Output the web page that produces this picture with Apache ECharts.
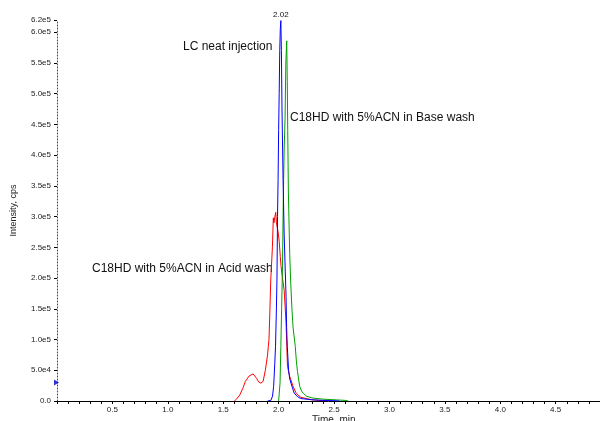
<!DOCTYPE html>
<html>
<head>
<meta charset="utf-8">
<script src="https://cdn.jsdelivr.net/npm/echarts@6/dist/echarts.min.js"></script>
<style>
html,body{margin:0;padding:0;background:#fff;}
#c{width:600px;height:421px;}
</style>
</head>
<body>
<div id="c"></div>
<script>
// Time (min), intensity (cps)
const lcNeatInjection = [
  [1.90,0],[1.93,1000],[1.945,8000],[1.955,24000],[1.965,60000],[1.972,89000],[1.98,150000],
  [1.985,200000],[1.99,300000],[1.995,360000],[2.0,440000],[2.005,500000],[2.01,570000],
  [2.015,605000],[2.02,619000],[2.025,570000],[2.03,480000],[2.04,360000],[2.05,270000],
  [2.06,210000],[2.067,170000],[2.072,120000],[2.078,89000],[2.09,50000],[2.10,36000],
  [2.12,24000],[2.14,13000],[2.17,7000],[2.2,4000],[2.3,2000],[2.4,1000],[2.5,500],[2.55,0]
];
const baseWash = [
  [2.0,0],[2.006,2000],[2.013,30000],[2.02,89000],[2.027,150000],[2.035,220000],[2.04,300000],
  [2.045,360000],[2.05,410000],[2.058,460000],[2.065,550000],[2.073,586000],[2.078,520000],
  [2.082,440000],[2.088,340000],[2.095,280000],[2.10,240000],[2.108,197000],[2.12,150000],
  [2.13,120000],[2.15,89000],[2.16,65000],[2.17,48000],[2.19,24000],[2.21,15000],[2.25,8000],
  [2.3,5000],[2.4,3000],[2.5,2000],[2.6,1000],[2.63,0]
];
const acidWash = [
  [1.60,0],[1.62,3000],[1.65,10000],[1.68,22000],[1.70,32000],[1.735,41000],[1.77,44000],
  [1.80,37000],[1.82,31000],[1.84,29000],[1.86,32000],[1.88,50000],[1.90,75000],[1.907,89000],
  [1.913,100000],[1.92,140000],[1.929,197000],[1.944,251000],[1.952,298000],[1.958,290000],
  [1.966,300000],[1.974,307000],[1.98,290000],[1.99,280000],[1.997,273000],[2.005,260000],
  [2.015,235000],[2.022,219000],[2.037,197000],[2.05,180000],[2.067,127000],[2.08,56000],
  [2.1,40000],[2.13,24000],[2.16,12000],[2.2,6000],[2.3,2000],[2.4,500],[2.45,0]
];
const markerPoint = [[0, 30000]];
const seriesNames = ['C18HD with 5%ACN in Acid wash', 'LC neat injection', 'C18HD with 5%ACN in Base wash'];
const xTickLabels = ['0.5','1.0','1.5','2.0','2.5','3.0','3.5','4.0','4.5'];

function yFmt(v){
  if (v === 0) return '0.0';
  const e = Math.floor(Math.log10(v) + 1e-9);
  const m = v / Math.pow(10, e);
  return m.toFixed(1) + 'e' + e;
}

const chart = echarts.init(document.getElementById('c'), null, {renderer:'canvas'});
const FF = 'Liberation Sans, Arial, sans-serif';
const labelFont = {fontFamily:FF, fontSize:8, color:'#222'};
chart.setOption({
  animation:false,
  backgroundColor:'#fff',
  grid:{left:57, right:0, top:20, bottom:20, containLabel:false, outerBoundsMode:'none'},
  xAxis:{
    type:'value', min:0, max:4.9, interval:0.1,
    axisLine:{show:true, onZero:false, lineStyle:{color:'#000', width:1}},
    axisTick:{show:true, length:3, interval:0, lineStyle:{color:'#000'}},
    axisLabel:Object.assign({margin:5, interval:0, showMinLabel:true, showMaxLabel:true,
      formatter:function(v){
        const s = v.toFixed(1);
        return xTickLabels.indexOf(s) >= 0 && Math.abs(v*2 - Math.round(v*2)) < 1e-6 ? s : '';
      }}, labelFont),
    splitLine:{show:false}
  },
  yAxis:{
    type:'value', min:0, max:620000, interval:50000,
    name:'Intensity, cps', nameLocation:'middle', nameGap:39, nameRotate:90,
    nameTextStyle:{fontFamily:FF, fontSize:9, color:'#222'},
    axisLine:{show:true, lineStyle:{color:'#444', width:1, type:[1,2]}},
    axisTick:{show:true, length:3, lineStyle:{color:'#000'}},
    axisLabel:Object.assign({margin:6, formatter:yFmt, showMaxLabel:true, hideOverlap:false}, labelFont),
    splitLine:{show:false}
  },
  series:[
    {name:seriesNames[0], type:'line', data:acidWash, showSymbol:false, symbol:'none',
     lineStyle:{color:'#ff0000', width:1}, itemStyle:{color:'#ff0000'}, z:2},
    {name:seriesNames[2], type:'line', data:baseWash, showSymbol:false, symbol:'none',
     lineStyle:{color:'#00a000', width:1}, itemStyle:{color:'#00a000'}, z:3},
    {name:seriesNames[1], type:'line', data:lcNeatInjection, showSymbol:false, symbol:'none',
     lineStyle:{color:'#0000ff', width:1}, itemStyle:{color:'#0000ff'}, z:4,
     markPoint:{symbol:'circle', symbolSize:0, silent:true,
       data:[{type:'max', name:'apex'}],
       label:{show:true, position:'top', distance:2,
         formatter:function(p){ return p.data.coord ? Number(p.data.coord[0]).toFixed(2) : ''; },
         fontFamily:FF, fontSize:8, color:'#111'}}},
    {type:'scatter', data:markerPoint, symbol:'triangle', symbolRotate:-90, symbolSize:[6,5],
     symbolOffset:[-0.5,0], clip:false, silent:true, itemStyle:{color:'#0000cc'}, z:5}
  ],
  graphic:[
    {type:'text', left:183, top:41, style:{text:'LC neat injection', fontFamily:FF, fontSize:12, fill:'#111'}},
    {type:'text', left:290, top:112, style:{text:'C18HD with 5%ACN in Base wash', fontFamily:FF, fontSize:12, fill:'#111'}},
    {type:'text', left:92, top:263, style:{text:'C18HD with 5%ACN in Acid wash', fontFamily:FF, fontSize:12, fill:'#111'}},
    {type:'text', left:312, top:415, style:{text:'Time, min', fontFamily:FF, fontSize:10, fill:'#222'}}
  ]
});
</script>
</body>
</html>
